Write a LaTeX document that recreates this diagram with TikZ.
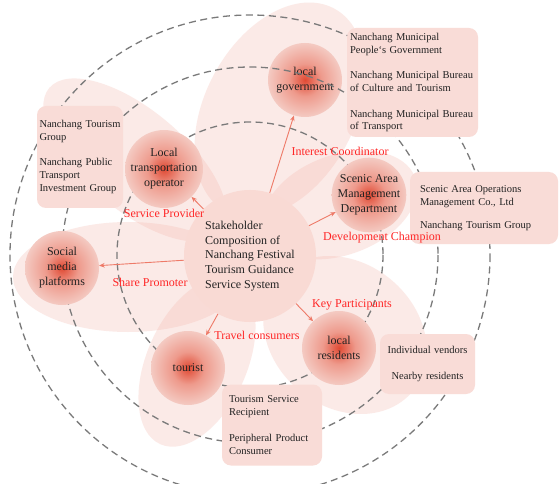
\documentclass[tikz,border=0pt]{standalone}
\usepackage{fontspec}
\setmainfont{Liberation Serif}
\usetikzlibrary{arrows.meta}

\definecolor{glowin}{HTML}{E04A34}
\definecolor{glowmid}{HTML}{EE9A8C}
\definecolor{glowout}{HTML}{F4CAC2}
\definecolor{halopink}{HTML}{F4B5AA}
\definecolor{boxpink}{HTML}{F9DCD7}
\definecolor{corepink}{HTML}{F9DAD4}
\definecolor{arrowred}{HTML}{EE7A68}
\definecolor{labelred}{HTML}{FF2626}
\definecolor{ringgray}{HTML}{7A7A7A}
\definecolor{inkdark}{HTML}{222222}

% radial glow: dark core fading to pale rim (25bp = node rim)
\pgfdeclareradialshading{nodeglow}{\pgfpoint{0bp}{0bp}}{%
  color(0bp)=(glowin); color(11bp)=(glowmid); color(25bp)=(glowout); color(50bp)=(glowout)}

\tikzset{
  halo/.style={fill=halopink, fill opacity=0.28},
  ring/.style={draw=ringgray, line width=1.3pt, dash pattern=on 7pt off 4.5pt},
  actor/.style={circle, minimum size=74pt, inner sep=0pt, shading=nodeglow,
    align=center, text=inkdark, font=\fontsize{12}{15}\selectfont},
  core/.style={circle, minimum size=132pt, inner sep=0pt, fill=corepink,
    align=left, text=inkdark, font=\fontsize{12}{14.8}\selectfont},
  infobox/.style={rectangle, rounded corners=9pt, fill=boxpink, text=inkdark,
    align=left, inner ysep=4pt, font=\fontsize{10.5}{12.8}\selectfont},
  link/.style={draw=arrowred, line width=0.9pt, -{Stealth[length=5.5pt,width=4.5pt]}},
  rolelabel/.style={text=labelred, font=\fontsize{12}{14}\selectfont, inner sep=0pt}
}

\begin{document}
\begin{tikzpicture}[x=1pt,y=-1pt]
\useasboundingbox (0,0) rectangle (560,484);
\fill[white] (0,0) rectangle (560,484);

% soft petals behind each stakeholder
\fill[halo, rotate around={62:(280,110)}] (280,110) ellipse [x radius=115, y radius=75];
\fill[halo, rotate around={-40:(135,160)}] (135,160) ellipse [x radius=112, y radius=50];
\fill[halo] (128,277) ellipse [x radius=115, y radius=55];
\fill[halo, rotate around={66:(197,362)}] (197,362) ellipse [x radius=90, y radius=50];
\fill[halo, rotate around={-40:(345,335)}] (345,335) ellipse [x radius=88, y radius=72];
\fill[halo, rotate around={20:(340,205)}] (340,205) ellipse [x radius=80, y radius=50];

% central system
\node[core] (sys) at (250,256) {Stakeholder\\Composition of\\Nanchang Festival\\Tourism Guidance\\Service System};

\node[actor] (gov) at (305,80) {local\\government};

% concentric rings
\coordinate (hub) at (250,255);
\draw[ring] (hub) circle [radius=133];
\draw[ring] (hub) circle [radius=188];
\draw[ring] (hub) circle [radius=240];

% stakeholders
\node[actor] (trans) at (164,169) {Local\\transportation\\operator};
\node[actor] (scenic) at (369,195) {Scenic Area\\Management\\Department};
\node[actor] (media) at (62,268) {Social\\media\\platforms};
\node[actor] (tour) at (188,368) {tourist};
\node[actor] (resid) at (339,348) {local\\residents};

% member boxes
\node[infobox, text width=125pt, inner xsep=3pt, minimum height=109pt] (govbox) at (412.5,82.5)
  {Nanchang Municipal\\People`s Government\\[12.8pt]Nanchang Municipal Bureau\\of Culture and Tourism\\[12.8pt]Nanchang Municipal Bureau\\of Transport};
\node[infobox, text width=81pt, inner xsep=2.5pt, minimum height=102pt] (transbox) at (80,157)
  {Nanchang Tourism\\Group\\[12.8pt]Nanchang Public\\Transport\\Investment Group};
\node[infobox, text width=128pt, inner xsep=10pt, minimum height=72pt] (scenicbox) at (484,208)
  {Scenic Area Operations\\Management Co., Ltd\\[10pt]Nanchang Tourism Group};
\node[infobox, align=center, text width=89pt, inner xsep=3pt, minimum height=60pt] (residbox) at (427.5,364)
  {Individual vendors\\[13pt]Nearby residents};
\node[infobox, text width=86pt, inner xsep=7pt, minimum height=81pt] (tourbox) at (272,425)
  {Tourism Service\\Recipient\\[12.8pt]Peripheral Product\\Consumer};

% roles
\draw[link] (sys) -- (gov);
\draw[link] (sys) -- (trans);
\draw[link] (sys) -- (scenic);
\draw[link] (sys) -- (media);
\draw[link] (sys) -- (tour);
\draw[link] (sys) -- (resid);

\node[rolelabel] (lgov) at (340,151) {Interest Coordinator};
\node[rolelabel] (ltrans) at (164,213) {Service Provider};
\node[rolelabel] (lscenic) at (382,238) {Development Champion};
\node[rolelabel] (lmedia) at (150,282) {Share Promoter};
\node[rolelabel] (ltour) at (257,335) {Travel consumers};
\node[rolelabel] (lresid) at (352,305) {Key Participants};
\end{tikzpicture}
\end{document}
